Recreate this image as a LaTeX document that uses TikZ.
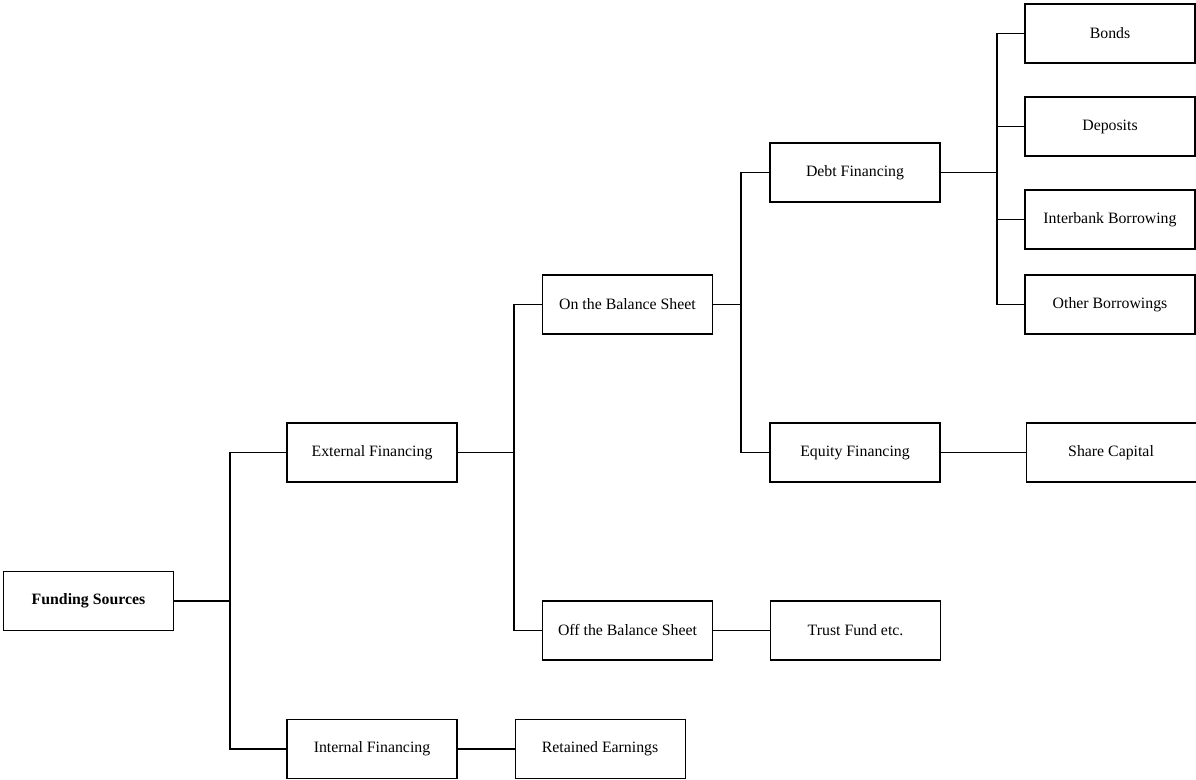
\documentclass[tikz,border=0pt]{standalone}
\usepackage{fontspec}
\setmainfont{Liberation Serif}
\usepackage{tikz}
\usetikzlibrary{positioning}
\tikzset{fbox/.style={rectangle,draw,line width=0.6pt,minimum width=3.4cm,minimum height=1.18cm,inner sep=2pt,font=\fontsize{9}{11}\selectfont},
	 link/.style={line width=0.6pt},
	 node distance = 1
	 }
\begin{document}
\begin{tikzpicture} % funding sources tree
	\useasboundingbox (0,0) rectangle (23.92,15.6);
	\node[fbox,font=\fontsize{9}{11}\selectfont\bfseries] (fund) at (1.77,3.58) {Funding Sources};
	\node[fbox] (ext) at (7.44,6.55) {External Financing};
	\node[fbox] (int) at (7.44,0.62) {Internal Financing};
	\node[fbox] (ret) [right=1.14cm of int] {Retained Earnings};
	\node[fbox] (onbs) at (12.55,9.51) {On the Balance Sheet};
	\node[fbox] (offbs) at (12.55,2.99) {Off the Balance Sheet};
	\node[fbox] (trust) [right=1.14cm of offbs] {Trust Fund etc.};
	\node[fbox] (debt) at (17.10,12.15) {Debt Financing};
	\node[fbox] (equity) at (17.10,6.55) {Equity Financing};
	\node[fbox] (share) [right=1.7cm of equity] {Share Capital};
	\node[fbox] (bonds) at (22.20,14.93) {Bonds};
	\node[fbox] (dep) at (22.20,13.07) {Deposits};
	\node[fbox] (inter) at (22.20,11.21) {Interbank Borrowing};
	\node[fbox] (other) at (22.20,9.51) {Other Borrowings};
	\coordinate (b1) at (4.6,3.58);
	\coordinate (b2) at (10.28,6.55);
	\coordinate (b3) at (14.82,9.51);
	\coordinate (b4) at (19.94,12.15);
	\draw[link] (fund) to (b1);
	\draw[link] (ext) -| (b1) |- (int);
	\draw[link] (ext) to (b2);
	\draw[link] (onbs) -| (b2) |- (offbs);
	\draw[link] (int) to (ret);
	\draw[link] (onbs) to (b3);
	\draw[link] (debt) -| (b3) |- (equity);
	\draw[link] (offbs) to (trust);
	\draw[link] (equity) to (share);
	\draw[link] (debt) to (b4);
	\draw[link] (bonds) -| (b4) |- (other);
	\draw[link] (b4) |- (dep);
	\draw[link] (b4) |- (inter);
\end{tikzpicture}
\end{document}
